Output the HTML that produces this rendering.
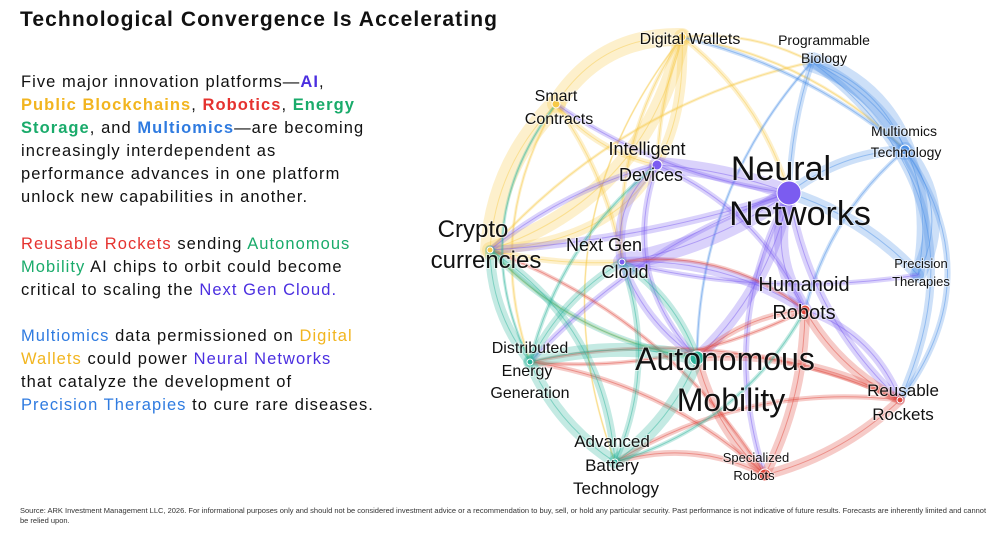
<!DOCTYPE html>
<html><head><meta charset="utf-8"><style>
body{margin:0;width:1000px;height:541px;background:#fff;overflow:hidden;position:relative;font-family:"Liberation Sans",sans-serif;color:#111}
h1{position:absolute;left:20px;top:8px;margin:0;font-size:21px;font-weight:bold;letter-spacing:1.1px;white-space:nowrap}
.p{position:absolute;left:21px;font-size:16.5px;line-height:23px;white-space:nowrap;letter-spacing:1.05px}
.y{color:#f2b51f}.r{color:#e5322f}.g{color:#1aab6b}.b{color:#2f7be0}.v{color:#4b2fe0}
.foot{position:absolute;left:20px;top:506px;font-size:7.5px;color:#333;width:970px;line-height:9.5px}
svg{position:absolute;left:0;top:0}
svg text{font-family:"Liberation Sans",sans-serif;fill:#111;text-anchor:middle}
</style></head><body>
<h1>Technological Convergence Is Accelerating</h1>
<div class="p" style="top:71px">Five major innovation platforms—<b class="v">AI</b>,<br><b class="y">Public Blockchains</b>, <b class="r">Robotics</b>, <b class="g">Energy</b><br><b class="g">Storage</b>, and <b class="b">Multiomics</b>—are becoming<br>increasingly interdependent as<br>performance advances in one platform<br>unlock new capabilities in another.</div>
<div class="p" style="top:233px"><span class="r">Reusable Rockets</span> sending <span class="g">Autonomous</span><br><span class="g">Mobility</span> AI chips to orbit could become<br>critical to scaling the <span class="v">Next Gen Cloud.</span></div>
<div class="p" style="top:325px"><span class="b">Multiomics</span> data permissioned on <span class="y">Digital</span><br><span class="y">Wallets</span> could power <span class="v">Neural Networks</span><br>that catalyze the development of<br><span class="b">Precision Therapies</span> to cure rare diseases.</div>
<svg id="s" width="1000" height="541"></svg>
<div class="foot">Source: ARK Investment Management LLC, 2026. For informational purposes only and should not be considered investment advice or a recommendation to buy, sell, or hold any particular security. Past performance is not indicative of future results. Forecasts are inherently limited and cannot be relied upon.</div>
<script>
var N={DW:[682,37],PB:[812,62],SC:[556,104],MT:[905,150],ID:[657,165],NN:[789,193],CC:[490,250],NG:[622,262],PT:[918,275],HR:[805,310],DE:[530,362],AM:[697,358],RR:[900,400],AB:[615,462],SR:[765,475]};
var C={y:"#f7c948",v:"#7b5cf0",b:"#4a8fe6",r:"#e0453a",g:"#2bb39a"};
var E=[
["DW","SC","y",18,40],["DW","CC","y",16,-80],["SC","CC","y",20,30],["DW","CC","y",10,-140],["SC","ID","y",6,20],["DW","NN","y",5,-30],["DW","NG","y",4,40],["SC","NG","y",5,-20],["CC","NG","y",6,10],["DW","ID","y",4,10],["DW","PB","y",3,-20],["CC","AM","y",3,40],["DW","MT","y",3,-40],["SC","DE","y",3,60],["DW","AB","y",2,120],["CC","PB","y",3,-60],
["PB","MT","b",20,-30],["PB","PT","b",12,-90],["MT","PT","b",16,-40],["MT","NN","b",10,20],["NN","PT","b",12,-20],["PB","RR","b",8,-140],["MT","RR","b",6,-90],["PB","NN","b",6,10],["MT","HR","b",4,30],["PB","AM","b",3,60],["DW","MT","b",4,-30],
["NN","ID","v",16,10],["NN","NG","v",18,-20],["NN","HR","v",14,30],["NN","AM","v",12,-30],["NN","CC","v",8,-20],["ID","NG","v",10,30],["NG","HR","v",10,-30],["NG","AM","v",8,20],["ID","AM","v",6,60],["NN","RR","v",8,40],["NN","SR","v",6,60],["NN","SC","v",5,-30],["HR","RR","v",8,-30],["ID","CC","v",6,20],["NN","DE","v",6,40],["NG","PT","v",5,30],["ID","HR","v",6,-40],
["HR","RR","r",10,20],["HR","SR","r",10,-20],["AM","SR","r",10,20],["RR","SR","r",10,-20],["AM","RR","r",8,-30],["HR","AM","r",6,20],["SR","AB","r",6,30],["SR","DE","r",5,40],["RR","DE","r",4,60],["HR","NG","r",4,40],["SR","CC","r",4,60],["RR","AB","r",5,50],["HR","DE","r",4,-40],
["AM","DE","g",14,20],["AM","AB","g",14,-20],["DE","AB","g",12,20],["DE","CC","g",10,-20],["AB","CC","g",8,60],["AM","NG","g",8,20],["DE","NG","g",8,-20],["AB","NG","g",6,40],["AM","CC","g",6,-40],["DE","ID","g",4,-40],["AB","HR","g",4,50],["DE","SC","g",3,-80]
];
var s='';
E.forEach(function(e){var a=N[e[0]],b=N[e[1]];var mx=(a[0]+b[0])/2,my=(a[1]+b[1])/2,dx=b[0]-a[0],dy=b[1]-a[1],L=Math.hypot(dx,dy)||1;var cx=mx-dy/L*e[4],cy=my+dx/L*e[4];
s+='<path d="M'+a[0]+' '+a[1]+'Q'+cx.toFixed(1)+' '+cy.toFixed(1)+' '+b[0]+' '+b[1]+'" fill="none" stroke="'+C[e[2]]+'" stroke-width="'+e[3]+'" stroke-opacity="0.28" stroke-linecap="round"/>';
s+='<path d="M'+a[0]+' '+a[1]+'Q'+cx.toFixed(1)+' '+cy.toFixed(1)+' '+b[0]+' '+b[1]+'" fill="none" stroke="'+C[e[2]]+'" stroke-width="1" stroke-opacity="0.45"/>';});
var D=[["DW",4,"y"],["SC",4,"y"],["ID",5,"v"],["NN",12,"v"],["MT",5,"b"],["HR",5,"r"],["AM",7,"g"],["SR",6,"r"],["RR",3,"r"],["CC",3,"y"],["NG",3,"v"],["DE",3,"g"],["AB",3,"g"]];
D.forEach(function(d){var p=N[d[0]];s+='<circle cx="'+p[0]+'" cy="'+p[1]+'" r="'+d[1]+'" fill="'+C[d[2]]+'" stroke="#fff" stroke-width="1"/>';});
var T=[["Digital Wallets",690,44,16],["Programmable",824,45,14],["Biology",824,63,14],["Smart",556,101,16],["Contracts",559,124,16],["Multiomics",904,136,14],["Technology",906,157,14],["Intelligent",647,155,18],["Devices",651,181,18],["Neural",781,180,34],["Networks",800,225,34],["Crypto",473,237,24],["currencies",486,268,24],["Next Gen",604,251,18],["Cloud",625,278,18],["Precision",921,268,13],["Therapies",921,286,13],["Humanoid",804,291,20],["Robots",804,319,20],["Distributed",530,353,16],["Energy",527,376,16],["Generation",530,398,16],["Autonomous",725,370,32],["Mobility",731,411,32],["Reusable",903,396,17],["Rockets",903,420,17],["Advanced",612,447,17],["Battery",612,471,17],["Technology",616,494,17],["Specialized",756,462,13],["Robots",754,480,13]];
T.forEach(function(t){s+='<text x="'+t[1]+'" y="'+t[2]+'" font-size="'+t[3]+'" style="paint-order:stroke" stroke="#fff" stroke-width="2" stroke-opacity="0.5">'+t[0]+'</text>';});
document.getElementById('s').innerHTML=s;
</script>
</body></html>
